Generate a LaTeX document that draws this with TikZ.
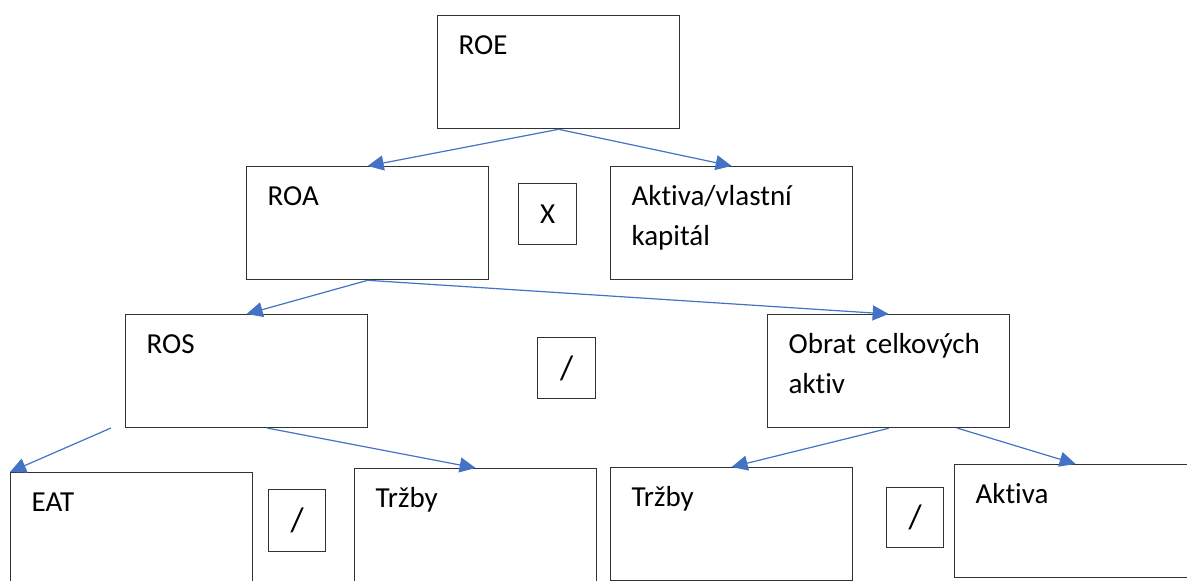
\documentclass[tikz,border=0pt]{standalone}
\usepackage{fontspec}
\setmainfont[Ligatures=NoCommon]{Carlito}
\usetikzlibrary{arrows.meta,calc}
\definecolor{arrowblue}{RGB}{68,114,196}
\definecolor{boxline}{RGB}{50,50,50}
\begin{document}
\begin{tikzpicture}[x=1pt,y=-1pt,
  box/.style={draw=boxline, line width=1.3pt, rectangle, anchor=north west,
    inner xsep=21pt, inner ysep=0pt, text width=200pt, align=left,
    text height=39pt, text depth=74pt, font=\fontsize{29}{40}\selectfont},
  opbox/.style={draw=boxline, line width=1.3pt, rectangle, anchor=north west,
    inner sep=0pt, minimum width=58pt, minimum height=61pt,
    font=\fontsize{29}{35}\selectfont},
  link/.style={draw=arrowblue, line width=1.2pt, -{Triangle[length=16pt,width=15pt]}}]
\useasboundingbox (0,0) rectangle (1187,581);
% main boxes
\node[box] (roe) at (437,15) {ROE};
\node[box] (roa) at (246,166) {ROA};
\node[box] (avk) at (610,166) {Aktiva/vlastní\\kapitál};
\node[box] (ros) at (125,314) {ROS};
\node[box] (obr) at (767,314) {Obrat celkových\\aktiv};
\node[box] (eat) at (10,472) {EAT};
\node[box] (trz1) at (354,468) {Tržby};
\node[box] (trz2) at (610,467) {Tržby};
\node[box] (akt) at (954,464) {Aktiva};
% operator boxes
\node[opbox] (opx) at (518,183) {X};
\node[opbox, minimum width=58pt, minimum height=61pt, font=\fontsize{34}{40}\selectfont] (opmid) at (537,337) {/};
\node[opbox, minimum width=57pt, minimum height=62pt, font=\fontsize{34}{40}\selectfont] (opleft) at (268,489) {/};
\node[opbox, minimum width=57pt, minimum height=60pt, font=\fontsize{34}{40}\selectfont] (opright) at (886,487) {/};
% free ends
\coordinate (rosL) at (111,428);
\coordinate (rosR) at (267,428);
\coordinate (obrR) at (957,428);
% connectors
\draw[link] (roe.south) -- (roa.north);
\draw[link] (roe.south) -- (avk.north);
\draw[link] (roa.south) -- (ros.north);
\draw[link] (roa.south) -- (obr.north);
\draw[link] (rosL) -- (eat.north west);
\draw[link] (rosR) -- (trz1.north);
\draw[link] (obr.south) -- (trz2.north);
\draw[link] (obrR) -- (akt.north);
\end{tikzpicture}
\end{document}
